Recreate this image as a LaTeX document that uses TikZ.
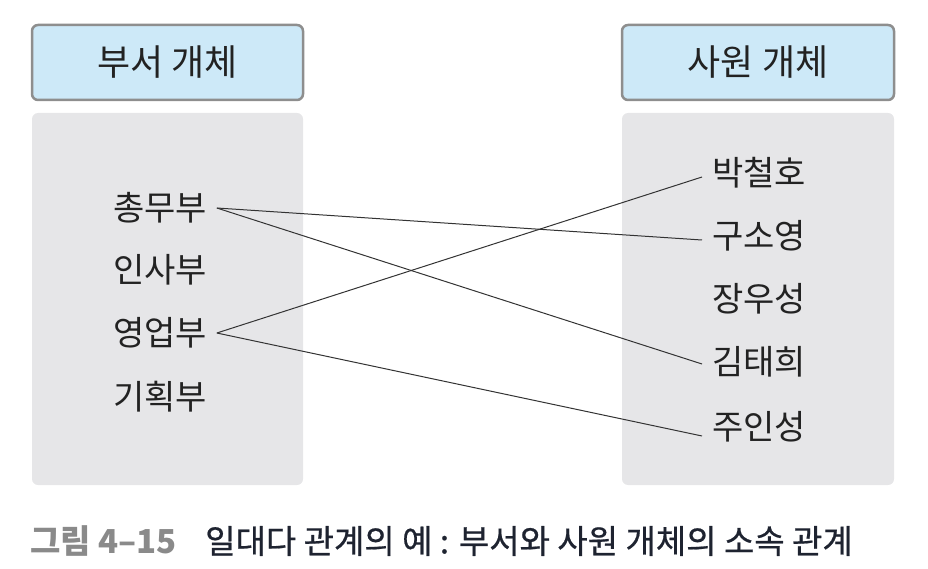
\documentclass[tikz,border=0pt]{standalone}
\usepackage{fontspec}
\setmainfont{Noto Sans CJK KR}
\newfontfamily\kr{Noto Sans CJK KR}
\newfontfamily\krmed[FakeBold=0.6]{Noto Sans CJK KR}
\definecolor{hdrfill}{HTML}{CDE9F8}
\definecolor{hdrline}{HTML}{8E8E8E}
\definecolor{panel}{HTML}{E6E6E8}
\definecolor{txt}{HTML}{222222}
\definecolor{capgray}{HTML}{8A8A8A}
\definecolor{capdark}{HTML}{1E2330}
\begin{document}
\begin{tikzpicture}[x=1pt,y=-1pt,
  hdr/.style={draw=hdrline,line width=2.5pt,fill=hdrfill,rounded corners=6pt},
  pnl/.style={fill=panel,rounded corners=6pt},
  hdrtext/.style={font=\kr\fontsize{36}{42}\selectfont,text=txt,inner sep=0pt},
  lbl/.style={font=\kr\fontsize{34}{40}\selectfont,text=txt,inner sep=0pt,outer xsep=10pt},
  link/.style={draw=black!80,line width=1pt}]
\useasboundingbox (0,0) rectangle (928,569);
% panels
\path[pnl] (32,113) rectangle (303,485);
\path[pnl] (622,113) rectangle (894,485);
% headers
\draw[hdr] (32,25) rectangle (303,100);
\draw[hdr] (622,25) rectangle (894,100);
\node[hdrtext] (h1) at (167.5,62) {부서 개체};
\node[hdrtext] (h2) at (758,62) {사원 개체};
% left labels
\node[lbl,anchor=west] (d1) at (103,208) {총무부};
\node[lbl,anchor=west] (d2) at (103,270) {인사부};
\node[lbl,anchor=west] (d3) at (103,333) {영업부};
\node[lbl,anchor=west] (d4) at (103,397) {기획부};
% right labels
\node[lbl,anchor=west] (e1) at (702,173) {박철호};
\node[lbl,anchor=west] (e2) at (702,236) {구소영};
\node[lbl,anchor=west] (e3) at (702,299) {장우성};
\node[lbl,anchor=west] (e4) at (702,362) {김태희};
\node[lbl,anchor=west] (e5) at (702,427) {주인성};
% links
\draw[link] (d1.east) -- ([yshift=-4pt]e2.west);
\draw[link] (d1.east) -- ([yshift=-2pt]e4.west);
\draw[link] (d3.east) -- ([yshift=-4pt]e1.west);
\draw[link] (d3.east) -- ([yshift=-9pt]e5.west);
% caption
\node[anchor=west,inner sep=0pt,font=\kr\bfseries\fontsize{33}{38}\selectfont,text=capgray] (c1) at (30,541) {그림 4–15};
\node[anchor=west,inner sep=0pt,font=\krmed\fontsize{33}{38}\selectfont,text=capdark] (c2) at (205,541) {일대다 관계의 예 : 부서와 사원 개체의 소속 관계};
\end{tikzpicture}
\end{document}
